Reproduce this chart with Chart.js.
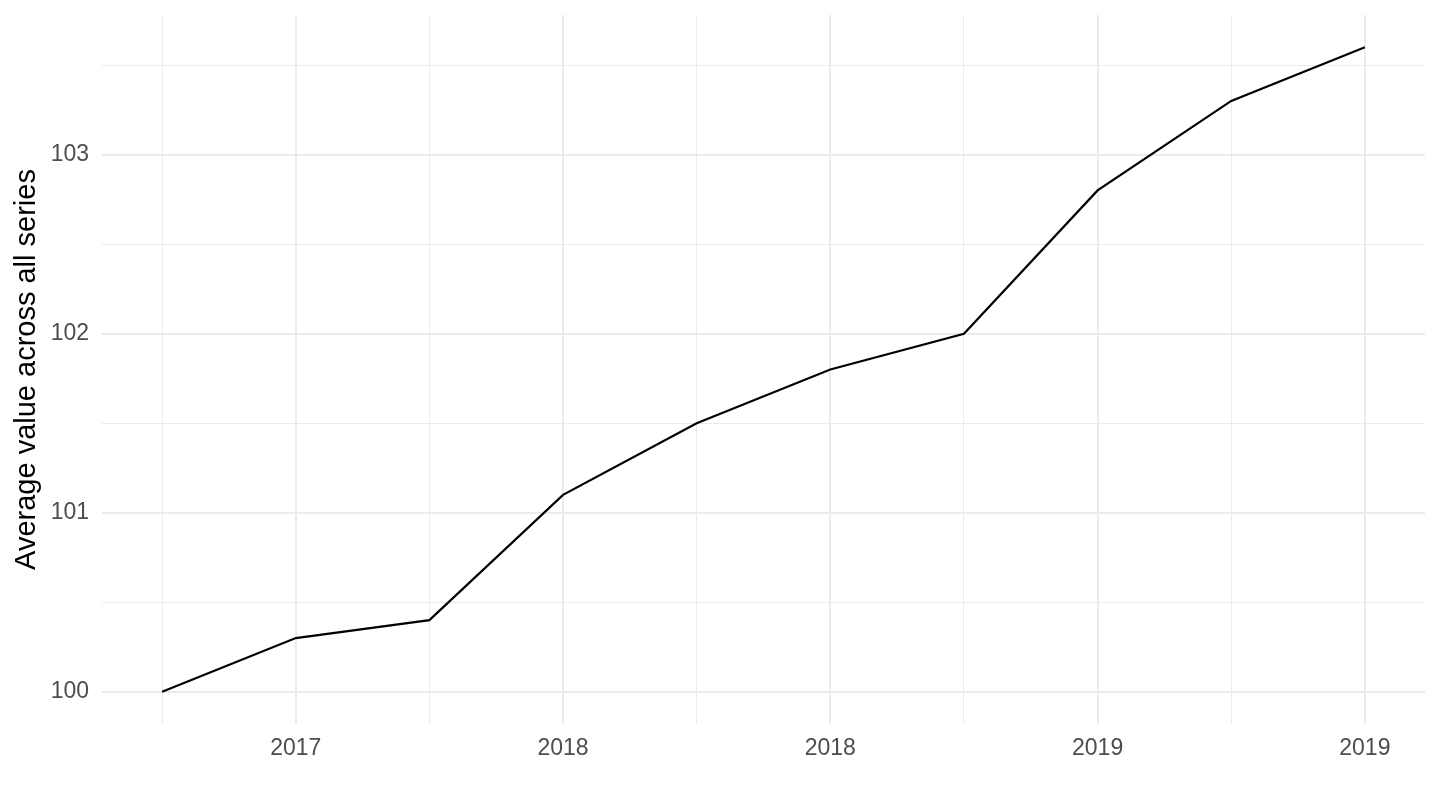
<!DOCTYPE html>
<html>
<head>
<meta charset="utf-8">
<script src="https://cdn.jsdelivr.net/npm/chart.js@4"></script>
<style>
  html, body { margin: 0; padding: 0; background: #fff; }
  #wrap { width: 1440px; height: 810px; }
</style>
</head>
<body>
<div id="wrap"><canvas id="avg-chart" width="1440" height="810"></canvas></div>
<script>
// Average value per period (index positions 0..9)
const values = [100.0, 100.3, 100.4, 101.1, 101.5, 101.8, 102.0, 102.8, 103.3, 103.6];
// Labels shown on the major x breaks (odd positions)
const xTickLabels = ['', '2017', '', '2018', '', '2018', '', '2019', '', '2019'];
const yTicks = [100, 100.5, 101, 101.5, 102, 102.5, 103, 103.5];

const points = values.map((v, i) => ({ x: i, y: v }));

const isMajorX = (v) => xTickLabels[v] !== '' && xTickLabels[v] !== undefined;
const isMajorY = (v) => Number.isInteger(v);

const avgChart = new Chart(document.getElementById('avg-chart'), {
  type: 'line',
  data: {
    datasets: [{
      label: 'Average',
      data: points,
      borderColor: '#000000',
      borderWidth: 2.2,
      pointRadius: 0,
      tension: 0,
      fill: false
    }]
  },
  options: {
    responsive: false,
    animation: false,
    devicePixelRatio: 1,
    layout: { padding: { top: 15, right: 15, left: 0, bottom: 0 } },
    plugins: {
      legend: { display: false },
      tooltip: { enabled: false }
    },
    scales: {
      x: {
        type: 'linear',
        min: -0.45,
        max: 9.45,
        afterBuildTicks: (scale) => {
          scale.ticks = xTickLabels.map((_, i) => ({ value: i }));
        },
        afterFit: (scale) => { scale.height = 86; },
        border: { display: false },
        grid: {
          drawTicks: false,
          color: '#ebebeb',
          lineWidth: (ctx) => isMajorX(ctx.tick ? ctx.tick.value : 0) ? 2 : 1
        },
        ticks: {
          autoSkip: false,
          maxRotation: 0,
          padding: 11,
          color: '#4d4d4d',
          font: { family: '"Liberation Sans", Arial, sans-serif', size: 23 },
          callback: (v) => xTickLabels[v] || ''
        }
      },
      y: {
        type: 'linear',
        min: 99.82,
        max: 103.78,
        afterBuildTicks: (scale) => {
          scale.ticks = yTicks.map((v) => ({ value: v }));
        },
        afterFit: (scale) => {
          scale.width = 102;
          scale.paddingTop = 0;
          scale.paddingBottom = 0;
        },
        border: { display: false },
        grid: {
          drawTicks: false,
          color: '#ebebeb',
          lineWidth: (ctx) => isMajorY(ctx.tick ? ctx.tick.value : 0) ? 2 : 1
        },
        ticks: {
          padding: 13,
          color: '#4d4d4d',
          font: { family: '"Liberation Sans", Arial, sans-serif', size: 23 },
          callback: (v) => isMajorY(v) ? String(v) : ''
        },
        title: {
          display: true,
          text: 'Average value across all series',
          color: '#000000',
          padding: { top: 10, bottom: 0 },
          font: { family: '"Liberation Sans", Arial, sans-serif', size: 29 }
        }
      }
    }
  }
});
</script>
</body>
</html>
